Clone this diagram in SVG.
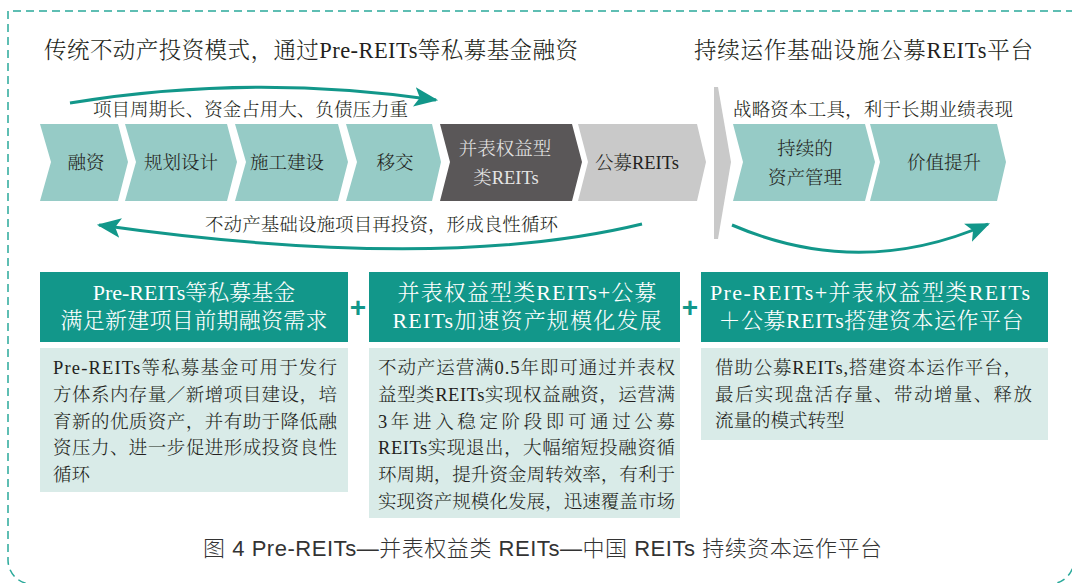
<svg xmlns="http://www.w3.org/2000/svg" width="1072" height="583" viewBox="0 0 1072 583">
<defs>
<style>
.t{font-family:"Liberation Serif","Noto Serif CJK SC","Noto Sans CJK SC",serif;fill:#231f20;font-weight:300}
.title{font-size:22.5px}
.lbl{font-size:18.5px}
.chev{fill:#96cbc6}
.hd{fill:#12978a}
.bd{fill:#d9ebe8}
.ht{font-size:22px;fill:#ffffff;text-anchor:middle}
.bt{font-size:18.5px}
.ct{font-size:18.5px;text-anchor:middle}
.arc{fill:none;stroke:#12978a;stroke-width:3}
.plus{font-family:"Liberation Sans",sans-serif;font-weight:bold;font-size:28px;fill:#12978a;text-anchor:middle}
.cap{font-family:"Liberation Sans","Noto Sans CJK SC",sans-serif;font-size:22px;fill:#333333;font-weight:300}
</style>
<marker id="ah" viewBox="0 0 22 18" refX="20" refY="9" markerWidth="24" markerHeight="20" markerUnits="userSpaceOnUse" orient="auto">
<path d="M0,0 L22,9 L0,18 L5,9 Z" fill="#12978a"/>
</marker>
</defs>
<rect width="1072" height="583" fill="#ffffff"/>
<path d="M1074,11 H8 V560 A24 24 0 0 0 32 584 H1050 A24 24 0 0 0 1074 560" fill="none" stroke="#2aa99a" stroke-width="1.5" stroke-dasharray="8 5"/>

<g id="titles">
<text class="t title" x="44" y="58" textLength="534">传统不动产投资模式，通过Pre-REITs等私募基金融资</text>
<text class="t title" x="694" y="58" textLength="339">持续运作基础设施公募REITs平台</text>
</g>

<g id="labels">
<text class="t lbl" x="93" y="116" textLength="315">项目周期长、资金占用大、负债压力重</text>
<text class="t lbl" x="733" y="116" textLength="280">战略资本工具，利于长期业绩表现</text>
<text class="t lbl" x="205" y="231" textLength="353">不动产基础设施项目再投资，形成良性循环</text>
</g>

<g id="connectors">
<path class="arc" d="M70,103 Q250,73 436,100" marker-end="url(#ah)"/>
<path class="arc" d="M642,224 Q440,273 99,225" marker-end="url(#ah)"/>
<path class="arc" d="M732,225 Q860,280 988,224" marker-end="url(#ah)"/>
<text class="plus" x="358" y="317">+</text>
<text class="plus" x="690" y="317">+</text>
</g>

<g id="n-rongzi">
<polygon class="chev" points="40,124 118,124 128,162 118,201 40,201 51,162"/>
<text class="t ct" x="86" y="169">融资</text>
</g>
<g id="n-guihua">
<polygon class="chev" points="125,124 227,124 237,162 227,201 125,201 136,162"/>
<text class="t ct" x="181" y="169">规划设计</text>
</g>
<g id="n-shigong">
<polygon class="chev" points="235,124 338,124 348,162 338,201 235,201 246,162"/>
<text class="t ct" x="287" y="169">施工建设</text>
</g>
<g id="n-yijiao">
<polygon class="chev" points="346,124 432,124 441,162 432,201 346,201 357,162"/>
<text class="t ct" x="395" y="169">移交</text>
</g>
<g id="n-bingbiao">
<polygon points="440,124 572,124 582,162 572,201 440,201 450,162" fill="#5a5758"/>
<text class="t ct" x="505" y="155" style="fill:#e4e4e4">并表权益型</text>
<text class="t ct" x="506" y="184" style="fill:#e4e4e4">类REITs</text>
</g>
<g id="n-gongmu">
<polygon points="578,124 697,124 706,162 697,201 578,201 588,162" fill="#c9c9c9"/>
<text class="t ct" x="637" y="169">公募REITs</text>
</g>
<g id="separator">
<polygon points="714,87 718,87 731,162 718,239 714,239" fill="#c9c9c9"/>
</g>
<g id="n-chixu">
<polygon class="chev" points="733,124 865,124 875,162 865,201 733,201 743,162"/>
<text class="t ct" x="805" y="155">持续的</text>
<text class="t ct" x="805" y="184">资产管理</text>
</g>
<g id="n-jiazhi">
<polygon class="chev" points="870,124 997,124 1006,162 997,201 870,201 880,162"/>
<text class="t ct" x="944" y="169">价值提升</text>
</g>

<g id="box1">
<rect class="hd" x="40" y="272" width="308" height="70"/>
<text class="t ht" x="194" y="300">Pre-REITs等私募基金</text>
<text class="t ht" x="194" y="328" textLength="267">满足新建项目前期融资需求</text>
<rect class="bd" x="40" y="348" width="308" height="144"/>
<text class="t bt" x="53" y="374" textLength="284">Pre-REITs等私募基金可用于发行</text>
<text class="t bt" x="53" y="400.8" textLength="284">方体系内存量／新增项目建设，培</text>
<text class="t bt" x="53" y="427.6" textLength="284">育新的优质资产，并有助于降低融</text>
<text class="t bt" x="53" y="454.4" textLength="284">资压力、进一步促进形成投资良性</text>
<text class="t bt" x="53" y="481.2">循环</text>
</g>

<g id="box2">
<rect class="hd" x="369" y="272" width="311" height="70"/>
<text class="t ht" x="527" y="300" textLength="259">并表权益型类REITs+公募</text>
<text class="t ht" x="527" y="328" textLength="269">REITs加速资产规模化发展</text>
<rect class="bd" x="369" y="348" width="311" height="170"/>
<text class="t bt" x="378" y="374" textLength="297">不动产运营满0.5年即可通过并表权</text>
<text class="t bt" x="378" y="400.8" textLength="297">益型类REITs实现权益融资，运营满</text>
<text class="t bt" x="378" y="427.6" textLength="297">3年进入稳定阶段即可通过公募</text>
<text class="t bt" x="378" y="454.4" textLength="297">REITs实现退出，大幅缩短投融资循</text>
<text class="t bt" x="378" y="481.2" textLength="297">环周期，提升资金周转效率，有利于</text>
<text class="t bt" x="378" y="508" textLength="297">实现资产规模化发展，迅速覆盖市场</text>
</g>

<g id="box3">
<rect class="hd" x="701" y="272" width="347" height="70"/>
<text class="t ht" x="870" y="300" textLength="320">Pre-REITs+并表权益型类REITs</text>
<text class="t ht" x="871" y="328" textLength="305">＋公募REITs搭建资本运作平台</text>
<rect class="bd" x="701" y="348" width="347" height="92"/>
<text class="t bt" x="715" y="374" textLength="307">借助公募REITs,搭建资本运作平台，</text>
<text class="t bt" x="715" y="400.5" textLength="317">最后实现盘活存量、带动增量、释放</text>
<text class="t bt" x="715" y="427">流量的模式转型</text>
</g>

<g id="caption">
<text class="cap" x="203" y="556" textLength="679">图 4  Pre-REITs—并表权益类 REITs—中国 REITs 持续资本运作平台</text>
</g>
</svg>
